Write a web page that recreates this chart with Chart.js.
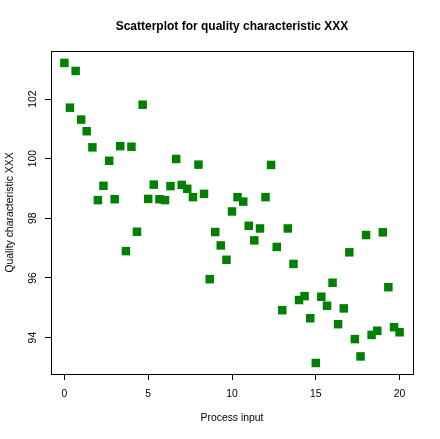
<!DOCTYPE html>
<html>
<head>
<meta charset="utf-8">
<script src="https://cdn.jsdelivr.net/npm/chart.js@4/dist/chart.umd.min.js"></script>
<style>
    html, body { margin: 0; padding: 0; background: #fff; }
    canvas { display: block; }
</style>
</head>
<body>
<canvas id="chart" width="440" height="439"></canvas>
<script>
// Process input (x) and quality characteristic (y)
const processInput = [
    0, 0.33, 0.67, 1, 1.33, 1.67, 2, 2.33, 2.67, 3,
    3.33, 3.67, 4, 4.33, 4.67, 5, 5.33, 5.67, 6, 6.33,
    6.67, 7, 7.33, 7.67, 8, 8.33, 8.67, 9, 9.33, 9.67,
    10, 10.33, 10.67, 11, 11.33, 11.67, 12, 12.33, 12.67, 13,
    13.33, 13.67, 14, 14.33, 14.67, 15, 15.33, 15.67, 16, 16.33,
    16.67, 17, 17.33, 17.67, 18, 18.33, 18.67, 19, 19.33, 19.67,
    20,
];
const qualityValues = [
    103.21, 101.71, 102.94, 101.31, 100.92, 100.38, 98.61, 99.09, 99.93, 98.64,
    100.42, 96.9, 100.4, 97.55, 101.81, 98.65, 99.13, 98.64, 98.61, 99.08,
    99.99, 99.12, 98.99, 98.71, 99.8, 98.82, 95.96, 97.54, 97.09, 96.61,
    98.23, 98.71, 98.56, 97.75, 97.26, 97.66, 98.71, 99.79, 97.04, 94.92,
    97.66, 96.47, 95.26, 95.39, 94.65, 93.15, 95.37, 95.07, 95.84, 94.45,
    94.98, 96.86, 93.95, 93.37, 97.44, 94.09, 94.23, 97.53, 95.69, 94.35,
    94.18,
];
const xTicks = [0, 5, 10, 15, 20];
const yTicks = [94, 96, 98, 100, 102];

const FONT = 'Liberation Sans, Arial, Helvetica, sans-serif';

// Draw the R style box around the plot region
const plotBox = {
    id: 'plotBox',
    afterDraw: (chart) => {
        const { left, top, width, height } = chart.chartArea;
        const ctx = chart.ctx;
        ctx.save();
        ctx.strokeStyle = '#000';
        ctx.lineWidth = 1;
        ctx.strokeRect(left + 0.5, top + 0.5, width, height);
        ctx.restore();
    },
};

new Chart(document.getElementById('chart'), {
    type: 'scatter',
    data: {
        datasets: [
            {
                data: processInput.map((x, i) => ({ x: x, y: qualityValues[i] })),
                backgroundColor: '#008000',
                borderWidth: 0,
                pointStyle: 'rect',
                pointRadius: 6,
                pointHoverRadius: 6,
            },
        ],
    },
    plugins: [plotBox],
    options: {
        responsive: false,
        animation: false,
        devicePixelRatio: 1,
        layout: {
            padding: { top: 0, left: 0, right: 27, bottom: 0 },
        },
        plugins: {
            legend: { display: false },
            tooltip: { enabled: false },
            title: {
                display: true,
                fullSize: false,
                text: 'Scatterplot for quality characteristic XXX',
                color: '#000',
                font: { family: FONT, size: 12, weight: 'bold' },
                padding: { top: 19.3, bottom: 17.3 },
            },
        },
        scales: {
            x: {
                type: 'linear',
                min: -0.8,
                max: 20.8,
                afterBuildTicks: (scale) => {
                    scale.ticks = xTicks.map((v) => ({ value: v }));
                },
                afterFit: (scale) => {
                    scale.height = 65;
                    scale.paddingLeft = 0;
                    scale.paddingRight = 0;
                },
                border: { display: false },
                grid: {
                    drawOnChartArea: false,
                    drawTicks: true,
                    tickLength: 6,
                    color: '#000',
                },
                ticks: {
                    color: '#000',
                    padding: 7.8,
                    maxRotation: 0,
                    font: { family: FONT, size: 10.4 },
                },
                title: {
                    display: true,
                    text: 'Process input',
                    color: '#000',
                    font: { family: FONT, size: 10.4 },
                    padding: { bottom: 14.8 },
                },
            },
            y: {
                type: 'linear',
                min: 92.78,
                max: 103.61,
                afterBuildTicks: (scale) => {
                    scale.ticks = yTicks.map((v) => ({ value: v }));
                },
                afterFit: (scale) => {
                    scale.width = 51;
                    scale.paddingTop = 0;
                    scale.paddingBottom = 0;
                },
                border: { display: false },
                grid: {
                    drawOnChartArea: false,
                    drawTicks: true,
                    tickLength: 6,
                    color: '#000',
                },
                ticks: {
                    color: '#000',
                    padding: 3.4,
                    minRotation: 90,
                    maxRotation: 90,
                    crossAlign: 'center',
                    font: { family: FONT, size: 10.4 },
                },
                title: {
                    display: true,
                    text: 'Quality characteristic XXX',
                    color: '#000',
                    font: { family: FONT, size: 10.4 },
                    padding: { top: 4.3 },
                },
            },
        },
    },
});
</script>
</body>
</html>
